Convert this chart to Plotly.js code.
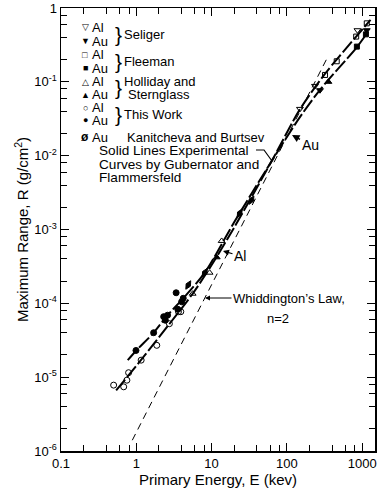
<!DOCTYPE html>
<html>
<head>
<meta charset="utf-8">
<script src="https://cdn.plot.ly/plotly-3.0.1.min.js"></script>
<style>html,body{margin:0;padding:0;background:#fff;}#chart{width:382px;height:491px;}</style>
</head>
<body>
<div id="chart"></div>
<script>
// ---- data ----
const alCurveE = [0.54, 1.15, 2.75, 5.6, 10, 20, 63, 148, 316, 832, 1290];
const alCurveR = [6.6e-6, 1.7e-5, 5.25e-5, 1.35e-4, 3.3e-4, 1.07e-3, 8.5e-3, 0.042, 0.126, 0.41, 0.69];
const auCurveE = [0.77, 1.0, 1.7, 2.6, 4.2, 8.1, 20, 63, 148, 275, 850, 1200];
const auCurveR = [1.7e-5, 2.3e-5, 4.0e-5, 6.9e-5, 1.17e-4, 2.6e-4, 1.26e-3, 8.5e-3, 0.033, 0.078, 0.295, 0.48];
const whidE = [0.885, 340];
const whidR = [1.4e-6, 0.207];

const thisWorkAlE = [0.50, 0.68, 0.75, 0.79, 1.16, 1.87, 2.75, 3.63, 3.9];
const thisWorkAlR = [7.8e-6, 7.4e-6, 9.1e-6, 1.15e-5, 1.7e-5, 2.7e-5, 5.3e-5, 7.7e-5, 7.7e-5];
const thisWorkAuE = [0.99, 1.70, 2.31, 2.43, 2.6, 3.38, 3.56, 4.0, 4.2];
const thisWorkAuR = [2.3e-5, 4.0e-5, 6.6e-5, 5.9e-5, 6.9e-5, 1.39e-4, 8.3e-5, 1.05e-4, 1.17e-4];
const hollidayAlE = [5.6, 9.4, 13.6];
const hollidayAlR = [1.35e-4, 2.6e-4, 7.0e-4];
const hollidayAuE = [11.7, 356];
const hollidayAuR = [4.2e-4, 0.10];
const seligerAlE = [149, 236, 865];
const seligerAlR = [0.043, 0.088, 0.50];
const seligerAuE = [275, 1150];
const seligerAuR = [0.077, 0.50];
const fleemanAlE = [321, 459, 832, 1150];
const fleemanAlR = [0.124, 0.19, 0.41, 0.62];
const fleemanAuE = [850, 1120];
const fleemanAuR = [0.30, 0.44];
const kanitchevaAuE = [4.9, 8.1, 23.6, 33.8];
const kanitchevaAuR = [1.77e-4, 2.6e-4, 1.66e-3, 2.5e-3];

const xTickVals = [0.1, 1, 10, 100, 1000];
const xTickText = ["0.1", "1", "10", "100", "1000"];
const yTickVals = [1e-6, 1e-5, 1e-4, 1e-3, 1e-2, 1e-1, 1];
const yTickText = ["10<sup>-6</sup>", "10<sup>-5</sup>", "10<sup>-4</sup>", "10<sup>-3</sup>", "10<sup>-2</sup>", "10<sup>-1</sup>", "1"];
const minorMult = [2, 4, 6, 8];

// ---- layout helpers ----
const FONT = "Liberation Sans, Arial, sans-serif";
const L = 61, R = 7, T = 8, B = 40, W = 382, H = 491;
const PW = W - L - R, PH = H - T - B;
function px(x) { return (x - L) / PW; }
function py(y) { return (H - B - y) / PH; }

function minorVals(lo, hi) {
  const out = [];
  for (let d = lo; d < hi; d++) for (const m of minorMult) out.push(m * Math.pow(10, d));
  return out;
}

function markers(xs, ys, symbol, size) {
  return { x: xs, y: ys, mode: "markers", type: "scatter", showlegend: false,
    marker: { symbol: symbol, size: size, color: "black", line: { color: "black", width: 1 } }, hoverinfo: "skip" };
}
function curve(xs, ys, width, dash) {
  return { x: xs, y: ys, mode: "lines", type: "scatter", showlegend: false,
    line: { color: "black", width: width, dash: dash, shape: "spline", smoothing: 0.8 }, hoverinfo: "skip" };
}

const traces = [
  curve(whidE, whidR, 1, "7px,5px"),
  curve(alCurveE, alCurveR, 2, "14px,3px"),
  curve(auCurveE, auCurveR, 2, "14px,3px"),
  markers(thisWorkAlE, thisWorkAlR, "circle-open", 6),
  markers(thisWorkAuE, thisWorkAuR, "circle", 6),
  markers(hollidayAlE, hollidayAlR, "triangle-up-open", 6),
  markers(hollidayAuE, hollidayAuR, "triangle-up", 6),
  markers(seligerAlE, seligerAlR, "triangle-down-open", 6),
  markers(seligerAuE, seligerAuR, "triangle-down", 6),
  markers(fleemanAlE, fleemanAlR, "square-open", 5),
  markers(fleemanAuE, fleemanAuR, "square", 5),
  markers(kanitchevaAuE, kanitchevaAuR, "diamond-tall", 7)
];
traces[traces.length - 1].marker.angle = 30;

const DY = 2;
function txt(text, x, y, size, anchor) {
  return { text: text, xref: "paper", yref: "paper", x: px(x), y: py(y + DY), showarrow: false,
    xanchor: anchor || "left", yanchor: "middle", font: { family: FONT, size: size || 13, color: "black" } };
}

const annotations = [
  // legend symbols
  txt("▽", 85, 25, 9, "center"), txt("Al", 90, 25),
  txt("▼", 85, 39, 9, "center"), txt("Au", 90, 39),
  txt("}", 113, 32, 21), txt("Seliger", 122, 33),
  txt("□", 85, 53, 9, "center"), txt("Al", 90, 53),
  txt("■", 85, 66, 9, "center"), txt("Au", 90, 66),
  txt("}", 113, 59, 21), txt("Fleeman", 122, 60),
  txt("△", 85, 80, 9, "center"), txt("Al", 90, 80),
  txt("▲", 85, 93, 9, "center"), txt("Au", 90, 93),
  txt("}", 113, 86, 21), txt("Holliday and", 122, 80), txt("Sternglass", 126, 93),
  txt("○", 85, 106, 9, "center"), txt("Al", 90, 106),
  txt("●", 85, 118, 9, "center"), txt("Au", 90, 118),
  txt("}", 113, 112, 21), txt("This Work", 122, 112),
  txt("<b>ø</b>", 85, 135, 12, "center"), txt("Au", 90, 135), txt("Kanitcheva and Burtsev", 125, 135),
  txt("Solid Lines Experimental", 97, 148, 13.6),
  txt("Curves by Gubernator and", 97, 162, 13.6),
  txt("Flammersfeld", 97, 176, 13.6),
  txt("n=2", 278, 316, 13, "center"),
  // arrows
  { text: "Au", xref: "paper", yref: "paper", x: px(292), y: py(135), ax: 18, ay: 10,
    showarrow: true, arrowhead: 2, arrowsize: 1, arrowwidth: 1.5, arrowcolor: "black",
    font: { family: FONT, size: 14, color: "black" } },
  { text: "Al", xref: "paper", yref: "paper", x: px(223), y: py(251), ax: 17, ay: 5,
    showarrow: true, arrowhead: 2, arrowsize: 1, arrowwidth: 1.2, arrowcolor: "black",
    font: { family: FONT, size: 14, color: "black" } },
  { text: "Whiddington’s Law,", xref: "paper", yref: "paper", x: px(205), y: py(298), ax: 84, ay: 0,
    showarrow: true, arrowhead: 2, arrowsize: 1, arrowwidth: 1, arrowcolor: "black",
    font: { family: FONT, size: 13, color: "black" } }
];

const shapes = [
  { type: "path", xref: "paper", yref: "paper",
    path: "M " + px(256) + " " + py(150) + " L " + px(264) + " " + py(150) + " L " + px(272) + " " + py(161),
    line: { color: "black", width: 1.2 } }
];

const axisCommon = {
  type: "log", showgrid: false, zeroline: false, showline: true, linecolor: "black", linewidth: 1.5,
  mirror: "ticks", ticks: "inside", ticklen: 8, tickwidth: 1, tickcolor: "black",
  tickfont: { family: FONT, size: 13, color: "black" }
};

const layout = {
  width: W, height: H, margin: { l: L, r: R, t: T, b: B, pad: 0 },
  paper_bgcolor: "white", plot_bgcolor: "white", showlegend: false,
  xaxis: Object.assign({}, axisCommon, {
    range: [-1, 3.17], tickmode: "array", tickvals: xTickVals, ticktext: xTickText,
    minor: { tickmode: "array", tickvals: minorVals(-1, 4), ticks: "inside", ticklen: 6, tickcolor: "black", showgrid: false },
    title: { text: "Primary Energy, E (kev)", font: { family: FONT, size: 15, color: "black" }, standoff: 4 }
  }),
  yaxis: Object.assign({}, axisCommon, {
    range: [-6, 0], tickmode: "array", tickvals: yTickVals, ticktext: yTickText,
    minor: { tickmode: "array", tickvals: minorVals(-6, 0), ticks: "inside", ticklen: 6, tickcolor: "black", showgrid: false },
    title: { text: "Maximum Range, R (g/cm<sup>2</sup>)", font: { family: FONT, size: 15, color: "black" }, standoff: 2 }
  }),
  annotations: annotations,
  shapes: shapes
};

Plotly.newPlot("chart", traces, layout, { displayModeBar: false, staticPlot: true });
</script>
</body>
</html>
